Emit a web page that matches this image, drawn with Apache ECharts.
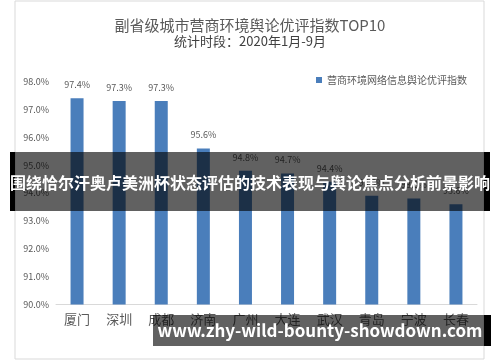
<!DOCTYPE html>
<html>
<head>
<meta charset="utf-8">
<script src="https://cdn.jsdelivr.net/npm/echarts@6/dist/echarts.min.js"></script>
<style>
html,body{margin:0;padding:0;background:#fff;}
#c{width:500px;height:362px;}
</style>
</head>
<body>
<div id="c"></div>
<script>
const categories = ['厦门','深圳','成都','济南','广州','大连','武汉','青岛','宁波','长春'];
const values = [97.4, 97.3, 97.3, 95.6, 94.8, 94.7, 94.4, 93.9, 93.8, 93.6];
const seriesName = '营商环境网络信息舆论优评指数';
const titleText = '副省级城市营商环境舆论优评指数TOP10';
const subtitleText = '统计时段：2020年1月-9月';
const bannerText = '围绕恰尔汗奥卢美洲杯状态评估的技术表现与舆论焦点分析前景影响';
const urlText = 'www.zhy-wild-bounty-showdown.com';
const yMin = 90, yMax = 98, yStep = 1;

const FONT = '"Noto Sans CJK SC", "Noto Sans", sans-serif';
const chart = echarts.init(document.getElementById('c'), null, {renderer:'canvas'});
chart.setOption({
  animation: false,
  backgroundColor: '#fff',
  textStyle: {fontFamily: FONT},
  title: {
    text: titleText,
    subtext: subtitleText,
    left: 'center',
    top: 13,
    itemGap: 2,
    textStyle: {fontSize: 15, fontWeight: 'normal', color: '#595959', fontFamily: FONT},
    subtextStyle: {fontSize: 13, color: '#404040', fontFamily: FONT}
  },
  legend: {
    data: [seriesName],
    right: 28,
    top: 70,
    itemWidth: 6,
    itemHeight: 6,
    itemGap: 4,
    icon: 'rect',
    textStyle: {fontSize: 10, color: '#595959', fontFamily: FONT}
  },
  grid: {left: 56, right: 23, top: 81.5, height: 223, containLabel: false},
  xAxis: {
    type: 'category',
    data: categories,
    axisLine: {lineStyle: {color: '#d9d9d9', width: 1}},
    axisTick: {show: false},
    axisLabel: {fontSize: 13, color: '#595959', margin: 8, fontFamily: FONT}
  },
  yAxis: {
    type: 'value',
    min: yMin, max: yMax, interval: yStep,
    axisLine: {show: false},
    axisTick: {show: false},
    splitLine: {show: false},
    axisLabel: {fontSize: 9, color: '#595959', margin: 7, fontFamily: FONT,
      formatter: v => v.toFixed(1) + '%'}
  },
  series: [{
    name: seriesName,
    type: 'bar',
    data: values,
    barWidth: 13,
    itemStyle: {color: '#4a7ebb'},
    label: {show: true, position: 'top', distance: 9, fontSize: 9, color: '#595959', fontFamily: FONT,
      formatter: p => p.value.toFixed(1) + '%'}
  }],
  graphic: [
    {type: 'rect', z: 100, shape: {x: 15, y: 1, width: 469, height: 358}, style: {fill: 'none', stroke: '#d9d9d9', lineWidth: 1}},
    {type: 'rect', z: 200, shape: {x: 10, y: 152, width: 5, height: 59}, style: {fill: '#000'}},
    {type: 'rect', z: 200, shape: {x: 15, y: 152, width: 469, height: 59}, style: {fill: 'rgba(0,0,0,0.62)'}},
    {type: 'rect', z: 200, shape: {x: 484, y: 152, width: 6, height: 59}, style: {fill: '#000'}},
    {type: 'text', z: 201, x: 250, y: 183, style: {text: bannerText, fill: '#fff', font: 'bold 16px ' + FONT, textAlign: 'center', textVerticalAlign: 'middle'}},
    {type: 'rect', z: 200, shape: {x: 153, y: 315, width: 331, height: 31}, style: {fill: 'rgba(0,0,0,0.62)'}},
    {type: 'rect', z: 200, shape: {x: 484, y: 315, width: 7, height: 31}, style: {fill: '#000'}},
    {type: 'text', z: 201, x: 320, y: 331, style: {text: urlText, fill: '#fff', font: 'bold 17px ' + FONT, textAlign: 'center', textVerticalAlign: 'middle'}}
  ]
});
</script>
</body>
</html>
